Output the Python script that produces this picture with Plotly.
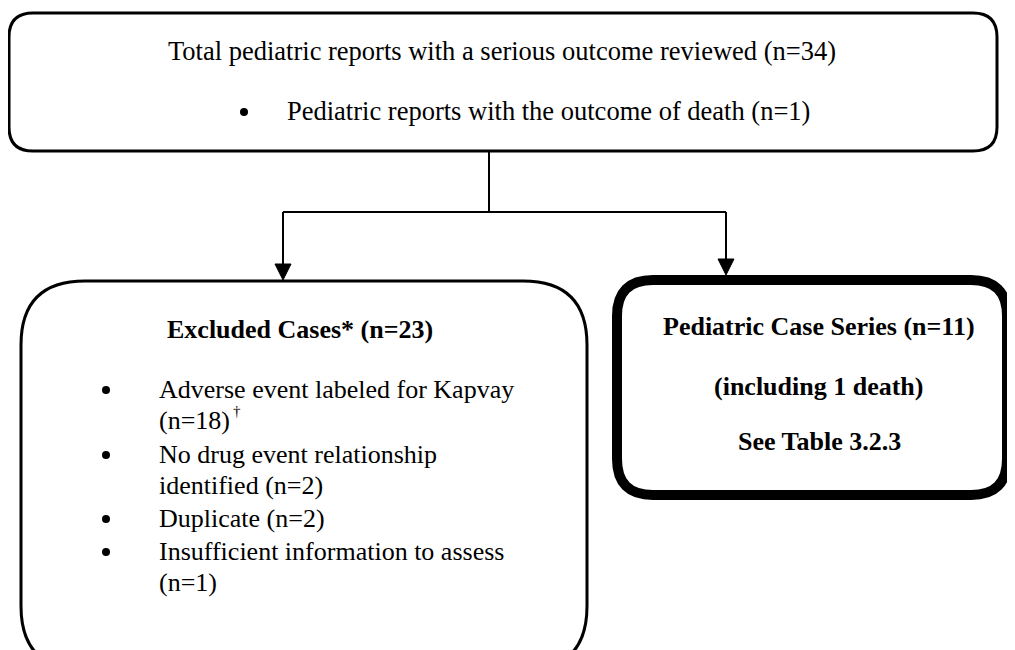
import plotly.graph_objects as go

# ---- content ----
top_title = "Total pediatric reports with a serious outcome reviewed (n=34)"
top_bullets = ["Pediatric reports with the outcome of death (n=1)"]

excluded_title = "Excluded Cases* (n=23)"
excluded_lines = [
    (True, "Adverse event labeled for Kapvay"),
    (False, "(n=18)"),
    (True, "No drug event relationship"),
    (False, "identified (n=2)"),
    (True, "Duplicate (n=2)"),
    (True, "Insufficient information to assess"),
    (False, "(n=1)"),
]
dagger = "†"

series_lines = ["Pediatric Case Series (n=11)", "(including 1 death)", "See Table 3.2.3"]

FONT = "Liberation Serif, Times New Roman, serif"
W, H = 1015, 650
OFF = 8  # page body margin


def rrect(x0, y0, x1, y1, r):
    return (f"M {x0+r},{y0} L {x1-r},{y0} Q {x1},{y0} {x1},{y0+r} "
            f"L {x1},{y1-r} Q {x1},{y1} {x1-r},{y1} L {x0+r},{y1} "
            f"Q {x0},{y1} {x0},{y1-r} L {x0},{y0+r} Q {x0},{y0} {x0+r},{y0} Z")


fig = go.Figure()
shapes = []
# boxes
shapes.append(dict(type="path", path=rrect(9, 13, 997, 151, 24),
                   line=dict(color="black", width=3), fillcolor="white", layer="below"))
shapes.append(dict(type="path", path=rrect(21, 281, 587, 670, 64),
                   line=dict(color="black", width=3), fillcolor="white", layer="below"))
shapes.append(dict(type="path", path=rrect(617, 280, 1007, 495, 36),
                   line=dict(color="black", width=10), fillcolor="white", layer="below"))
# connectors
LC = dict(color="black", width=2)
shapes.append(dict(type="line", x0=489, y0=151, x1=489, y1=212, line=LC))
shapes.append(dict(type="line", x0=283, y0=212, x1=726, y1=212, line=LC))
shapes.append(dict(type="line", x0=283, y0=212, x1=283, y1=268, line=LC))
shapes.append(dict(type="line", x0=726, y0=212, x1=726, y1=262, line=LC))
for ax, tip in [(283, 280), (726, 275)]:
    shapes.append(dict(type="path", path=f"M {ax-8},{tip-16} L {ax+8},{tip-16} L {ax},{tip} Z",
                       fillcolor="black", line=dict(color="black", width=1)))

ann = []
bx, by = [], []


def txt(x, y, t, size, anchor="left", bold=False):
    ann.append(dict(x=x, y=y, text=f"<b>{t}</b>" if bold else t, showarrow=False,
                    xanchor=anchor, yanchor="middle",
                    font=dict(family=FONT, size=size, color="black")))


txt(502, 51, top_title, 26.5, "center")
for i, t in enumerate(top_bullets):
    y = 111 + i * 30
    bx.append(244)
    by.append(y + 1)
    txt(285, y, t, 26.5)

txt(300, 329, excluded_title, 26, "center", bold=True)
ys = [389, 420, 454, 485, 518, 551, 582]
for (b, t), y in zip(excluded_lines, ys):
    if b:
        bx.append(106)
        by.append(y + 1)
    txt(157, y, t, 26)
txt(231, 411, dagger, 15)

for t, y in zip(series_lines, [326, 386, 441]):
    txt(819, y, t, 26, "center", bold=True)

fig.add_trace(go.Scatter(x=bx, y=by, mode="markers", hoverinfo="skip",
                         marker=dict(color="black", size=8, symbol="circle")))

fig.update_layout(
    width=W, height=H, margin=dict(l=0, r=0, t=0, b=0),
    paper_bgcolor="white", plot_bgcolor="white",
    xaxis=dict(range=[OFF, W + OFF], visible=False, fixedrange=True),
    yaxis=dict(range=[H + OFF, OFF], visible=False, fixedrange=True),
    shapes=shapes, annotations=ann, showlegend=False,
)
fig.write_html("out.html")
